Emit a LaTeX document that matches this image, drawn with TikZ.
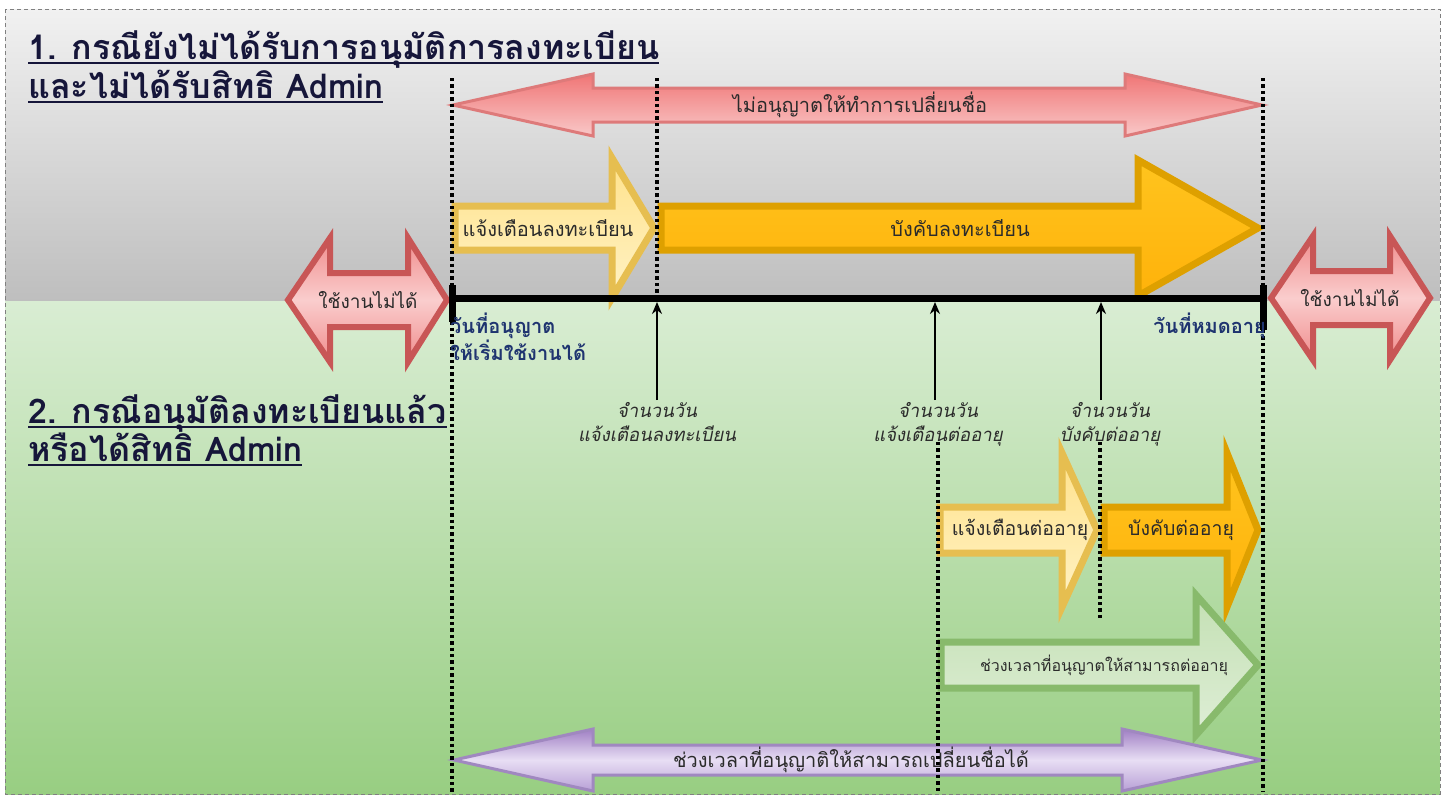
\documentclass[tikz,border=0pt]{standalone}
\usepackage{fontspec}
\setmainfont[Script=Thai,AutoFakeSlant=0.2]{Loma}
\usetikzlibrary{arrows.meta}
\definecolor{bgtop}{HTML}{F1F1F1}
\definecolor{bgbot}{HTML}{BEBEBE}
\definecolor{grtop}{HTML}{D9EDD3}
\definecolor{grbot}{HTML}{98CE82}
\definecolor{titlecol}{HTML}{16163A}
\definecolor{datecol}{HTML}{1F3470}
\definecolor{txtcol}{HTML}{2B2B2B}
\newcommand\RArrow[7]{\path[#1] (#2,#5-#6) -- (#3,#5-#6) -- (#3,#5-#7) -- (#4,#5) -- (#3,#5+#7) -- (#3,#5+#6) -- (#2,#5+#6) -- cycle;}
\newcommand\DArrow[8]{\path[#1] (#2,#6) -- (#3,#6-#8) -- (#3,#6-#7) -- (#4,#6-#7) -- (#4,#6-#8) -- (#5,#6) -- (#4,#6+#8) -- (#4,#6+#7) -- (#3,#6+#7) -- (#3,#6+#8) -- cycle;}
\newcommand\myul[1]{\setbox0\hbox{#1}\rlap{\rule[-5pt]{\wd0}{2.2pt}}\box0}
\begin{document}
\begin{tikzpicture}[x=1pt,y=-1pt,
  redbig/.style={draw={rgb,255:red,222;green,122;blue,122}, line width=3pt, line join=miter, top color={rgb,255:red,240;green,118;blue,118}, bottom color={rgb,255:red,249;green,200;blue,200}},
  reddbl/.style={draw={rgb,255:red,200;green,86;blue,86}, line width=6pt, line join=miter, top color={rgb,255:red,240;green,140;blue,140}, bottom color={rgb,255:red,240;green,140;blue,140}, middle color={rgb,255:red,250;green,205;blue,205}},
  yelarr/.style={draw={rgb,255:red,230;green,190;blue,80}, line width=7pt, line join=miter, top color={rgb,255:red,255;green,226;blue,140}, bottom color={rgb,255:red,255;green,242;blue,196}},
  orarr/.style={draw={rgb,255:red,222;green,160;blue,0}, line width=7pt, line join=miter, top color={rgb,255:red,255;green,196;blue,30}, bottom color={rgb,255:red,255;green,178;blue,10}},
  grarr/.style={draw={rgb,255:red,136;green,186;blue,108}, line width=7pt, line join=miter, top color={rgb,255:red,196;green,224;blue,180}, bottom color={rgb,255:red,222;green,238;blue,214}},
  purarr/.style={draw={rgb,255:red,160;green,136;blue,192}, line width=3pt, line join=miter, top color={rgb,255:red,160;green,128;blue,196}, bottom color={rgb,255:red,184;green,160;blue,214}, middle color={rgb,255:red,232;green,222;blue,244}},
  arrtxt/.style={font=\fontsize{20}{24}\selectfont, text=txtcol, inner sep=0pt},
  titletxt/.style={font=\fontsize{34}{40}\selectfont\bfseries, text=titlecol, anchor=base west, inner sep=0pt},
  datetxt/.style={font=\fontsize{20}{23}\selectfont\bfseries\itshape, text=datecol, inner sep=0pt, align=left},
  cnttxt/.style={font=\fontsize{18.5}{24}\selectfont\itshape, text=txtcol, inner sep=0pt, align=center, anchor=north},
  vdot/.style={line width=3.4pt, dash pattern=on 3.4pt off 3pt, black},
  uparr/.style={line width=1.8pt, -{Stealth[length=12pt,width=10pt]}},
]
\useasboundingbox (0,0) rectangle (1445,798);
% backgrounds
\shade[top color=bgtop, bottom color=bgbot] (5,9) rectangle (1440,301);
\shade[top color=grtop, bottom color=grbot] (5,301) rectangle (1440,794);
\draw[gray, line width=0.8pt, dash pattern=on 4pt off 3pt] (5,9) rectangle (1440,794);

% arrows
\DArrow{redbig}{453}{593}{1125}{1262}{105}{17}{31}
\RArrow{yelarr}{455}{612}{654}{228}{22}{70}
\RArrow{orarr}{661}{1138}{1258}{228}{22}{68}
\DArrow{reddbl}{288}{330}{408}{447}{300}{27}{62}
\DArrow{reddbl}{1271}{1313}{1390}{1430}{298}{27}{62}
\RArrow{yelarr}{940}{1062}{1097}{530}{23}{77}
\RArrow{orarr}{1104}{1227}{1258}{530}{23}{77}
\RArrow{grarr}{941}{1196}{1258}{665}{23}{70}
\DArrow{purarr}{454}{593}{1122}{1262}{760}{15}{31}

% timeline
\draw[line width=7pt] (452,298) -- (1266,298);
\draw[line width=7pt] (452,285) -- (452,322);
\draw[line width=7pt] (1263,285) -- (1263,330);

% dotted guide lines
\draw[vdot] (452,78) -- (452,792);
\draw[vdot] (657,78) -- (657,298);
\draw[vdot] (1263,78) -- (1263,290);
\draw[vdot] (1263,330) -- (1263,792);
\draw[vdot] (938,442) -- (938,792);
\draw[vdot] (1100,442) -- (1100,620);

% titles
\node[titletxt] (t1a) at (28,59) {\myul{1. กรณียังไม่ได้รับการอนุมัติการลงทะเบียน}};
\node[titletxt] (t1b) at (28,98) {\myul{และไม่ได้รับสิทธิ Admin}};
\node[titletxt] (t2a) at (28,423) {\myul{2. กรณีอนุมัติลงทะเบียนแล้ว}};
\node[titletxt] (t2b) at (28,461) {\myul{หรือได้สิทธิ Admin}};

% arrow labels
\node[arrtxt] (lnochange) at (860,105) {ไม่อนุญาตให้ทำการเปลี่ยนชื่อ};
\node[arrtxt] (lwarnreg) at (548,228) {แจ้งเตือนลงทะเบียน};
\node[arrtxt] (lforcereg) at (960,228) {บังคับลงทะเบียน};
\node[arrtxt, font=\fontsize{19}{24}\selectfont] (lunuse1) at (368,300) {ใช้งานไม่ได้};
\node[arrtxt, font=\fontsize{19}{24}\selectfont] (lunuse2) at (1350,298) {ใช้งานไม่ได้};
\node[arrtxt, font=\fontsize{19.5}{24}\selectfont] (lwarnren) at (1020,530) {แจ้งเตือนต่ออายุ};
\node[arrtxt, font=\fontsize{19.5}{24}\selectfont] (lforceren) at (1181,530) {บังคับต่ออายุ};
\node[arrtxt, font=\fontsize{16}{24}\selectfont] (lrenper) at (1104,665) {ช่วงเวลาที่อนุญาตให้สามารถต่ออายุ};
\node[arrtxt] (lchgper) at (851,760) {ช่วงเวลาที่อนุญาติให้สามารถเปลี่ยนชื่อได้};

% date labels
\node[datetxt, anchor=north west] (dstart) at (450,313) {วันที่อนุญาต\\ให้เริ่มใช้งานได้};
\node[datetxt, anchor=north east] (dend) at (1266,313) {วันที่หมดอายุ};

% count labels with pointers
\node[cnttxt] (c1) at (657,402) {จำนวนวัน\\แจ้งเตือนลงทะเบียน};
\node[cnttxt] (c2) at (938,402) {จำนวนวัน\\แจ้งเตือนต่ออายุ};
\node[cnttxt] (c3) at (1110,402) {จำนวนวัน\\บังคับต่ออายุ};
\coordinate (p1) at (657,302);
\coordinate (p2) at (935,302);
\coordinate (p3) at (1101,302);
\draw[uparr] (657,400) -- (p1);
\draw[uparr] (935,400) -- (p2);
\draw[uparr] (1101,400) -- (p3);
\end{tikzpicture}
\end{document}
